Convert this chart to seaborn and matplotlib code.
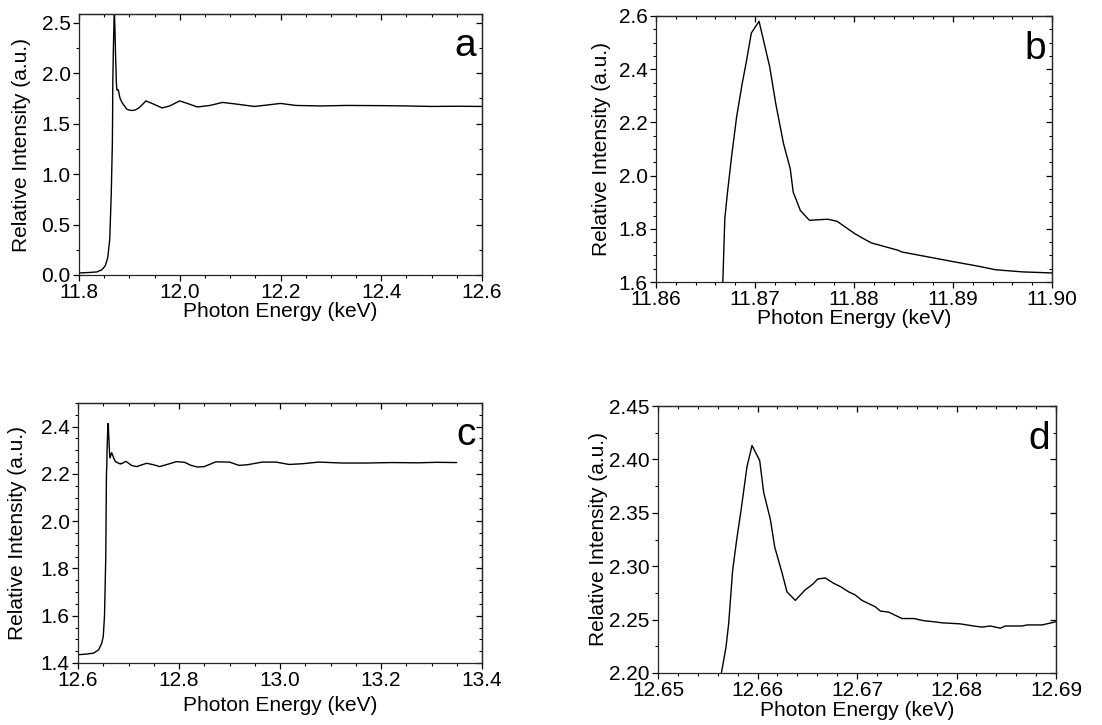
"""
XANES edge spectra: full range and zoom on the white line, two edges
"""

import matplotlib
matplotlib.use('Agg')
import matplotlib.pyplot as plt
from matplotlib.ticker import MultipleLocator, FormatStrFormatter
import seaborn as sns

# Set style
sns.set_style("ticks")
plt.rcParams['font.family'] = ['Liberation Sans', 'DejaVu Sans']
plt.rcParams['axes.linewidth'] = 0.9
plt.rcParams['text.color'] = 'black'
plt.rcParams['axes.labelcolor'] = 'black'
plt.rcParams['xtick.color'] = 'black'
plt.rcParams['ytick.color'] = 'black'

# ---- data ----
# zoom on first edge (panel b)
b_energy = [11.86675, 11.86695, 11.8672, 11.86763, 11.86814, 11.8687, 11.86912,
            11.86963, 11.87041, 11.87149, 11.8721, 11.87288, 11.87356, 11.87386,
            11.87458, 11.87549, 11.87736, 11.8783, 11.88007, 11.88125, 11.88176,
            11.88447, 11.88481, 11.88753, 11.89024, 11.89261, 11.89431, 11.89702,
            11.90]
b_intensity = [1.60, 1.838, 1.93, 2.07, 2.22, 2.345, 2.427,
               2.536, 2.58, 2.408, 2.27, 2.12, 2.026, 1.938,
               1.869, 1.832, 1.836, 1.828, 1.782, 1.757, 1.747,
               1.719, 1.713, 1.694, 1.675, 1.659, 1.646, 1.638,
               1.634]

# first edge, full range (panel a) outside the zoomed window
a_pre_energy = [11.80, 11.82, 11.835, 11.845, 11.852, 11.857, 11.861, 11.864, 11.8662]
a_pre_intensity = [0.02, 0.025, 0.03, 0.05, 0.09, 0.17, 0.35, 0.8, 1.3]
a_post_energy = [11.905, 11.912, 11.92, 11.933, 11.945, 11.965, 11.98, 12.0, 12.015,
                 12.035, 12.06, 12.085, 12.11, 12.148, 12.175, 12.2, 12.23, 12.28,
                 12.33, 12.4, 12.45, 12.5, 12.55, 12.6]
a_post_intensity = [1.63, 1.635, 1.66, 1.725, 1.70, 1.655, 1.675, 1.725, 1.70,
                    1.665, 1.68, 1.71, 1.695, 1.67, 1.685, 1.70, 1.68, 1.675,
                    1.68, 1.678, 1.675, 1.67, 1.672, 1.67]

# zoom on second edge (panel d)
d_energy = [12.6560, 12.65637, 12.65683, 12.6571, 12.6575, 12.65794, 12.65834,
            12.65894, 12.65945, 12.66022, 12.66062, 12.66129, 12.66173, 12.66246,
            12.66296, 12.6638, 12.66481, 12.66554, 12.66605, 12.66682, 12.66765,
            12.66832, 12.66916, 12.66983, 12.6705, 12.67117, 12.67184, 12.67235,
            12.67318, 12.67385, 12.67452, 12.6757, 12.6767, 12.6777, 12.67853,
            12.68038, 12.68172, 12.68256, 12.6834, 12.6844, 12.6849, 12.68558,
            12.68658, 12.68709, 12.68759, 12.6886, 12.69]
d_intensity = [2.12, 2.20, 2.224, 2.246, 2.296, 2.327, 2.352,
               2.393, 2.413, 2.399, 2.369, 2.344, 2.318, 2.294,
               2.276, 2.268, 2.278, 2.283, 2.288, 2.289, 2.284,
               2.281, 2.276, 2.273, 2.268, 2.265, 2.262, 2.258,
               2.257, 2.254, 2.251, 2.251, 2.249, 2.248, 2.247,
               2.246, 2.244, 2.243, 2.244, 2.242, 2.244, 2.244,
               2.244, 2.245, 2.245, 2.245, 2.248]

# second edge, full range (panel c) outside the zoomed window
c_pre_energy = [12.60, 12.618, 12.631, 12.641, 12.647, 12.650, 12.6525, 12.655]
c_pre_intensity = [1.435, 1.438, 1.442, 1.456, 1.484, 1.512, 1.60, 1.85]
c_post_energy = [12.695, 12.706, 12.716, 12.736, 12.749, 12.762, 12.775, 12.795,
                 12.811, 12.824, 12.837, 12.85, 12.873, 12.90, 12.919, 12.936,
                 12.965, 12.992, 13.018, 13.044, 13.077, 13.123, 13.169, 13.221,
                 13.273, 13.31, 13.35]
c_post_intensity = [2.253, 2.236, 2.231, 2.245, 2.239, 2.231, 2.239, 2.252,
                    2.249, 2.236, 2.229, 2.231, 2.251, 2.25, 2.236, 2.239,
                    2.25, 2.25, 2.24, 2.243, 2.25, 2.246, 2.246, 2.248,
                    2.247, 2.249, 2.248]

a_energy = a_pre_energy + b_energy + a_post_energy
a_intensity = a_pre_intensity + b_intensity + a_post_intensity
c_energy = c_pre_energy + d_energy + c_post_energy
c_intensity = c_pre_intensity + d_intensity + c_post_intensity

W, H = 1102, 725
FS = 15


def add_panel(fig, box, x, y, xlim, ylim, xtick, ytick, xfmt, yfmt,
              letter, ylab_px, xlab_px):
    """box = (left, top, right, bottom) in pixels"""
    left, top, right, bottom = box
    ax = fig.add_axes([left / W, 1 - bottom / H, (right - left) / W, (bottom - top) / H])
    sns.lineplot(x=x, y=y, ax=ax, color='black', linewidth=1.0,
                 estimator=None, sort=False)
    ax.set_xlim(*xlim)
    ax.set_ylim(*ylim)

    ax.xaxis.set_major_locator(MultipleLocator(xtick[0]))
    ax.xaxis.set_minor_locator(MultipleLocator(xtick[1]))
    ax.yaxis.set_major_locator(MultipleLocator(ytick[0]))
    ax.yaxis.set_minor_locator(MultipleLocator(ytick[1]))
    ax.xaxis.set_major_formatter(FormatStrFormatter(xfmt))
    ax.yaxis.set_major_formatter(FormatStrFormatter(yfmt))
    ax.tick_params(which='both', direction='out', labelsize=FS, pad=2)
    ax.tick_params(which='major', length=4, width=0.9)
    ax.tick_params(which='minor', length=2.2, width=0.8)

    # mirrored ticks on top and right pointing inwards
    top_ax = ax.secondary_xaxis('top')
    top_ax.xaxis.set_major_locator(MultipleLocator(xtick[0]))
    top_ax.xaxis.set_minor_locator(MultipleLocator(xtick[1]))
    top_ax.tick_params(which='both', direction='in', labeltop=False)
    top_ax.tick_params(which='major', length=4, width=0.9)
    top_ax.tick_params(which='minor', length=2.2, width=0.8)
    right_ax = ax.secondary_yaxis('right')
    right_ax.yaxis.set_major_locator(MultipleLocator(ytick[0]))
    right_ax.yaxis.set_minor_locator(MultipleLocator(ytick[1]))
    right_ax.tick_params(which='both', direction='in', labelright=False)
    right_ax.tick_params(which='major', length=4, width=0.9)
    right_ax.tick_params(which='minor', length=2.2, width=0.8)

    ax.set_xlabel('Photon Energy (keV)', fontsize=FS)
    ax.set_ylabel('Relative Intensity (a.u.)', fontsize=FS)
    ax.xaxis.set_label_coords(0.5, -xlab_px / (bottom - top))
    # label anchor is the right side of the rotated text
    ax.yaxis.set_label_coords(-(ylab_px - 9) / (right - left), 0.5)

    ax.text(0.985, 0.84, letter, transform=ax.transAxes, fontsize=28,
            ha='right', va='baseline')
    return ax


fig = plt.figure(figsize=(W / 100, H / 100), dpi=100)

add_panel(fig, (79, 14, 482, 275), a_energy, a_intensity,
          (11.8, 12.6), (0.0, 2.586), (0.2, 0.05), (0.5, 0.25),
          '%.1f', '%.1f', 'a', 57, 27)
add_panel(fig, (656, 16, 1052, 282), b_energy, b_intensity,
          (11.86, 11.90), (1.6, 2.6), (0.01, 0.002), (0.2, 0.05),
          '%.2f', '%.1f', 'b', 54, 27)
add_panel(fig, (78, 403, 482, 663), c_energy, c_intensity,
          (12.6, 13.4), (1.4, 2.5), (0.2, 0.05), (0.2, 0.05),
          '%.1f', '%.1f', 'c', 60, 33)
add_panel(fig, (658, 406, 1056, 673), d_energy, d_intensity,
          (12.65, 12.69), (2.20, 2.45), (0.01, 0.002), (0.05, 0.025),
          '%.2f', '%.2f', 'd', 59, 28)

plt.savefig('out.png', dpi=100)
plt.close()
